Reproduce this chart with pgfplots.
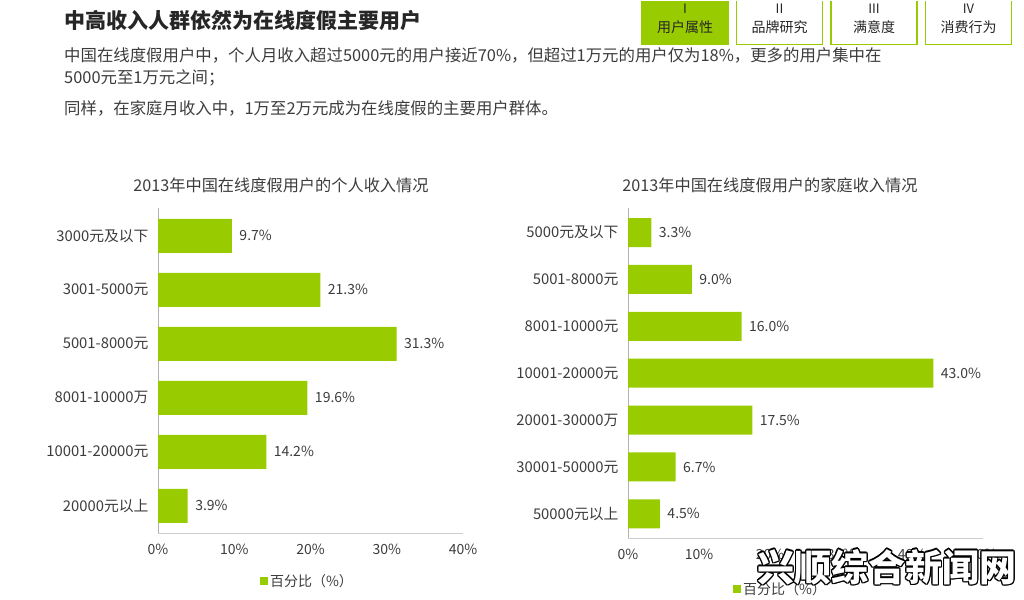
\documentclass[border=0pt]{standalone}
\usepackage{fontspec}
\setmainfont{Noto Sans CJK SC}
\usepackage{pgfplots}
\pgfplotsset{compat=1.18}
\usepackage{contour}
\contourlength{1.3pt}
\contournumber{12}
\definecolor{bargreen}{RGB}{153,204,0}
\definecolor{txt}{RGB}{60,60,60}
\definecolor{axgray}{RGB}{205,205,205}
\pgfplotsset{
  mybars/.style={
    scale only axis,
    xbar,
    y dir=reverse,
    /pgf/number format/assume math mode=true,
    axis x line*=bottom,
    axis y line*=left,
    axis line style={-},
    x axis line style={draw=axgray},
    y axis line style={draw=gray!60},
    major tick length=0pt,
    yticklabel style={font=\fontsize{14.8}{16}\selectfont, text=txt, xshift=-6pt},
    xticklabel style={font=\fontsize{14}{16}\selectfont, text=txt, yshift=-8pt},
    nodes near coords={\pgfmathprintnumber[fixed,precision=1,fixed zerofill]{\pgfplotspointmeta}\%},
    every node near coord/.append style={anchor=west, xshift=4pt, font=\fontsize{14}{16}\selectfont, text=txt},
    legend image code/.code={\fill[bargreen] (0pt,-4pt) rectangle (8pt,4pt);},
    legend style={draw=none, fill=none, font=\fontsize{14}{16}\selectfont, text=txt, anchor=center},
  }
}
\begin{document}
\begin{tikzpicture}
\path (0pt,0pt) rectangle (1024pt,598pt);
% header
\node[anchor=west, inner sep=0pt, font=\fontsize{21}{24}\selectfont\bfseries, text=black!85] at (64pt,578pt) {中高收入人群依然为在线度假主要用户};
\node[anchor=west, inner sep=0pt, font=\fontsize{16.4}{18}\selectfont, text=txt] at (64pt,543pt) {中国在线度假用户中，个人月收入超过5000元的用户接近70\%，但超过1万元的用户仅为18\%，更多的用户集中在};
\node[anchor=west, inner sep=0pt, font=\fontsize{16.4}{18}\selectfont, text=txt] at (64pt,521pt) {5000元至1万元之间；};
\node[anchor=west, inner sep=0pt, font=\fontsize{16.4}{18}\selectfont, text=txt] at (64pt,490pt) {同样，在家庭月收入中，1万至2万元成为在线度假的主要用户群体。};
% tabs
\foreach \i/\r/\t in {0/I/用户属性,1/II/品牌研究,2/III/满意度,3/IV/消费行为}{
  \pgfmathsetmacro{\xl}{642+94.5*\i}
  \pgfmathsetmacro{\xc}{\xl+43}
  \ifnum\i=0
    \fill[bargreen] (\xl pt,554pt) rectangle ++(86pt,44pt);
  \fi
  \draw[bargreen, line width=1.5pt] (\xl pt,598pt) -- (\xl pt,554pt) -- ++(86pt,0pt) -- ++(0pt,44pt);
  \node[inner sep=0pt, font=\fontsize{13}{14}\selectfont, text=black!85] at (\xc pt,590pt) {\r};
  \node[inner sep=0pt, font=\fontsize{14}{15}\selectfont, text=black!85] at (\xc pt,572pt) {\t};
}
% chart titles
\node[font=\fontsize{16.2}{18}\selectfont, text=txt] at (281pt,413pt) {2013年中国在线度假用户的个人收入情况};
\node[font=\fontsize{16.2}{18}\selectfont, text=txt] at (770pt,413pt) {2013年中国在线度假用户的家庭收入情况};

\begin{axis}[mybars, at={(158pt,66pt)}, anchor=south west,
  width=305pt, height=325pt, bar width=34pt,
  xmin=0, xmax=40, ymin=-0.52, ymax=5.5,
  xtick={0,10,20,30,40}, xticklabels={0\%,10\%,20\%,30\%,40\%},
  ytick={0,...,5},
  yticklabels={3000元及以下,3001-5000元,5001-8000元,8001-10000万,10001-20000元,20000元以上},
  legend style={at={(0.49,-0.148)}},
]
\addplot[fill=bargreen, draw=none] coordinates {(9.7,0) (21.3,1) (31.3,2) (19.6,3) (14.2,4) (3.9,5)};
\addlegendentry{百分比（\%）}
\end{axis}

\begin{axis}[mybars, at={(628pt,61pt)}, anchor=south west,
  width=355pt, height=330pt, bar width=29pt,
  xmin=0, xmax=50, ymin=-0.53, ymax=6.51,
  xtick={0,10,20,30,40,50}, xticklabels={0\%,10\%,20\%,30\%,40\%,50\%},
  ytick={0,...,6},
  yticklabels={5000元及以下,5001-8000元,8001-10000元,10001-20000元,20001-30000万,30001-50000元,50000元以上},
  legend style={at={(0.43,-0.155)}},
]
\addplot[fill=bargreen, draw=none] coordinates {(3.3,0) (9.0,1) (16.0,2) (43.0,3) (17.5,4) (6.7,5) (4.5,6)};
\addlegendentry{百分比（\%）}
\end{axis}

% watermark
\node[font=\fontsize{37}{40}\selectfont\bfseries] at (887pt,31pt) {\contour{black}{\textcolor{white}{兴顺综合新闻网}}};
\end{tikzpicture}
\end{document}
